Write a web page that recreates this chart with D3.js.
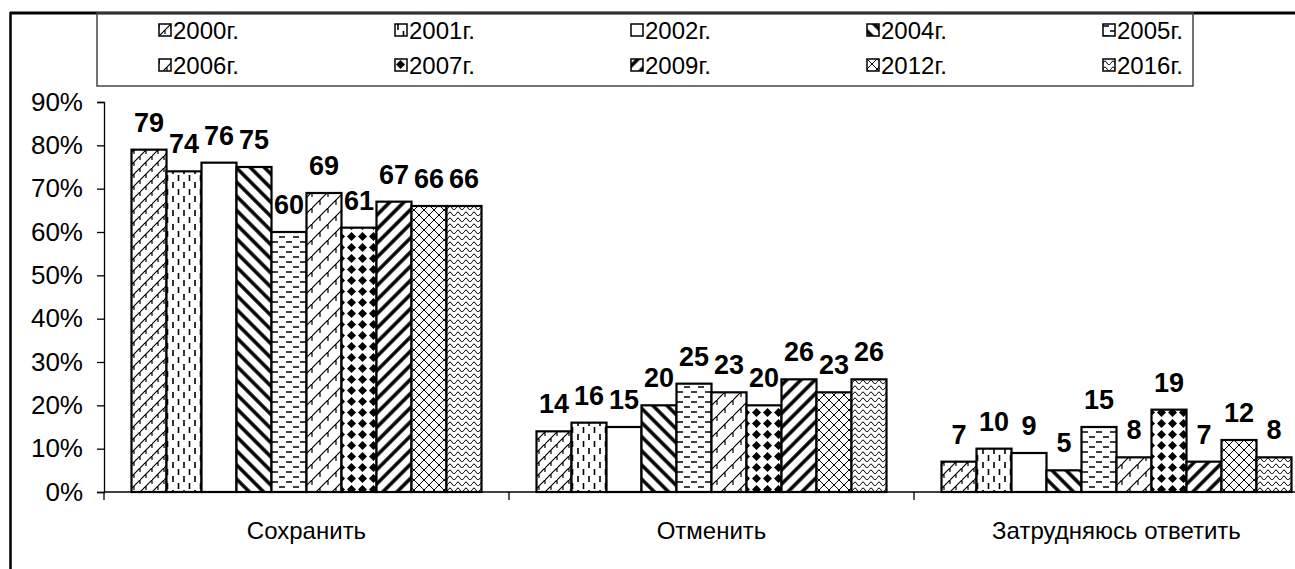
<!DOCTYPE html>
<html>
<head>
<meta charset="utf-8">
<script src="https://cdn.jsdelivr.net/npm/d3@7"></script>
<style>
    body { margin: 0; background: #fff; }
    text { font-family: "Liberation Sans", Arial, sans-serif; }
</style>
</head>
<body>
<svg id="chart"></svg>
<script>
// data
const categories = ["Сохранить", "Отменить", "Затрудняюсь ответить"];
const years = ["2000г.", "2001г.", "2002г.", "2004г.", "2005г.", "2006г.", "2007г.", "2009г.", "2012г.", "2016г."];
const v2000 = [79, 14, 7];
const v2001 = [74, 16, 10];
const v2002 = [76, 15, 9];
const v2004 = [75, 20, 5];
const v2005 = [60, 25, 15];
const v2006 = [69, 23, 8];
const v2007 = [61, 20, 19];
const v2009 = [67, 26, 7];
const v2012 = [66, 23, 12];
const v2016 = [66, 26, 8];
const seriesValues = [v2000, v2001, v2002, v2004, v2005, v2006, v2007, v2009, v2012, v2016];
const yTicks = [0, 10, 20, 30, 40, 50, 60, 70, 80, 90];

const width = 1295;
const height = 569;
const svg = d3.select("#chart").attr("width", width).attr("height", height);

// hatch patterns (black & white chart)
const defs = svg.append("defs");
function pattern(id, w, h, draw, transform) {
    const p = defs.append("pattern")
        .attr("id", id)
        .attr("patternUnits", "userSpaceOnUse")
        .attr("width", w)
        .attr("height", h);
    if (transform) p.attr("patternTransform", transform);
    p.append("rect").attr("width", w).attr("height", h).attr("fill", "#fff");
    draw(p);
}
const line = (p, d, sw) => p.append("path").attr("d", d).attr("stroke", "#000").attr("stroke-width", sw).attr("fill", "none");

pattern("p0", 12, 12, (p) => line(p, "M0,12 L12,0 M6,6 L6,10 M0,0 L0,4 M12,0 L12,4", 1.2));
pattern("p1", 11, 14, (p) => line(p, "M3,0 L3,6 M8.5,7 L8.5,13", 1.6));
pattern("p2", 10, 10, () => {});
pattern("p3", 10, 10, (p) => line(p, "M5,0 L5,10", 3.5), "rotate(-45)");
pattern("p4", 14, 10, (p) => line(p, "M0,2 L6,2 M7,7 L13,7", 1.6));
pattern("p5", 16, 16, (p) => line(p, "M0,16 L16,0 M8,8 L8,13 M0,0 L0,5 M16,0 L16,5", 1.2));
pattern("p6", 11, 11, (p) => {
    p.append("path").attr("d", "M5.5,1 L10,5.5 L5.5,10 L1,5.5Z").attr("fill", "#000");
});
pattern("p7", 10, 10, (p) => line(p, "M5,0 L5,10", 3.5), "rotate(45)");
pattern("p8", 10, 10, (p) => line(p, "M0,0 L10,10 M10,0 L0,10", 1));
pattern("p9", 8, 6, (p) => line(p, "M0,4 Q2,0 4,4 T8,4", 1));

// scales
const x0 = d3.scaleBand().domain(categories).range([104, 1319]);
const x1 = d3.scaleBand().domain(years).range([0, x0.bandwidth()]).paddingOuter(0.786);
const y = d3.scaleLinear().domain([0, 90]).range([492, 102]);

// y axis
const yAxis = svg.append("g")
    .attr("transform", "translate(104,0)")
    .call(d3.axisLeft(y).tickValues(yTicks).tickFormat((d) => d + "%").tickSize(7).tickPadding(14));
yAxis.select(".domain").attr("stroke", "#000").attr("stroke-width", 1.3);
yAxis.selectAll(".tick line").attr("stroke", "#000").attr("stroke-width", 1.3);
yAxis.selectAll(".tick text").attr("font-size", 26).attr("fill", "#000")
    .attr("font-family", "Liberation Sans, Arial, sans-serif");

// bars
const groups = svg.append("g")
    .selectAll("g")
    .data(categories)
    .enter()
    .append("g")
    .attr("transform", (d) => `translate(${x0(d)},0)`);

groups.each(function (cat, ci) {
    const g = d3.select(this);
    const rows = years.map((yr, i) => ({ yr, i, v: seriesValues[i][ci] }));
    g.selectAll("rect")
        .data(rows)
        .enter()
        .append("rect")
        .attr("x", (d) => x1(d.yr))
        .attr("y", (d) => y(d.v))
        .attr("width", x1.bandwidth())
        .attr("height", (d) => y(0) - y(d.v))
        .attr("fill", (d) => `url(#p${d.i})`)
        .attr("stroke", "#000")
        .attr("stroke-width", 2.2);
    g.selectAll("text")
        .data(rows)
        .enter()
        .append("text")
        .attr("x", (d) => x1(d.yr) + x1.bandwidth() / 2)
        .attr("y", (d) => y(d.v) - 18)
        .attr("text-anchor", "middle")
        .attr("font-size", 27)
        .attr("font-weight", "bold")
        .text((d) => d.v);
});

// x axis
svg.append("line")
    .attr("x1", 104).attr("x2", width)
    .attr("y1", y(0)).attr("y2", y(0))
    .attr("stroke", "#000").attr("stroke-width", 1.3);
svg.append("g")
    .selectAll("line")
    .data(categories)
    .enter()
    .append("line")
    .attr("x1", (d) => x0(d)).attr("x2", (d) => x0(d))
    .attr("y1", y(0)).attr("y2", y(0) + 8)
    .attr("stroke", "#000").attr("stroke-width", 1.3);
svg.append("g")
    .selectAll("text")
    .data(categories)
    .enter()
    .append("text")
    .attr("x", (d) => x0(d) + x0.bandwidth() / 2)
    .attr("y", 539)
    .attr("text-anchor", "middle")
    .attr("font-size", 24)
    .text((d) => d);

// frame
svg.append("line").attr("x1", 10).attr("x2", width).attr("y1", 13).attr("y2", 13)
    .attr("stroke", "#000").attr("stroke-width", 3);
svg.append("line").attr("x1", 10.5).attr("x2", 10.5).attr("y1", 12).attr("y2", height)
    .attr("stroke", "#000").attr("stroke-width", 2.5);

// legend
svg.append("rect").attr("x", 97).attr("y", 13).attr("width", 1096).attr("height", 73)
    .attr("fill", "none").attr("stroke", "#444").attr("stroke-width", 1.5);
const legend = svg.append("g")
    .selectAll("g")
    .data(years)
    .enter()
    .append("g")
    .attr("transform", (d, i) => `translate(${159 + (i % 5) * 236},${i < 5 ? 24 : 59})`);
legend.append("rect")
    .attr("width", 12).attr("height", 12)
    .attr("fill", (d, i) => `url(#p${i})`)
    .attr("stroke", "#000").attr("stroke-width", 1.5);
legend.append("text")
    .attr("x", 14).attr("y", 15)
    .attr("font-size", 24)
    .text((d) => d);
</script>
</body>
</html>
